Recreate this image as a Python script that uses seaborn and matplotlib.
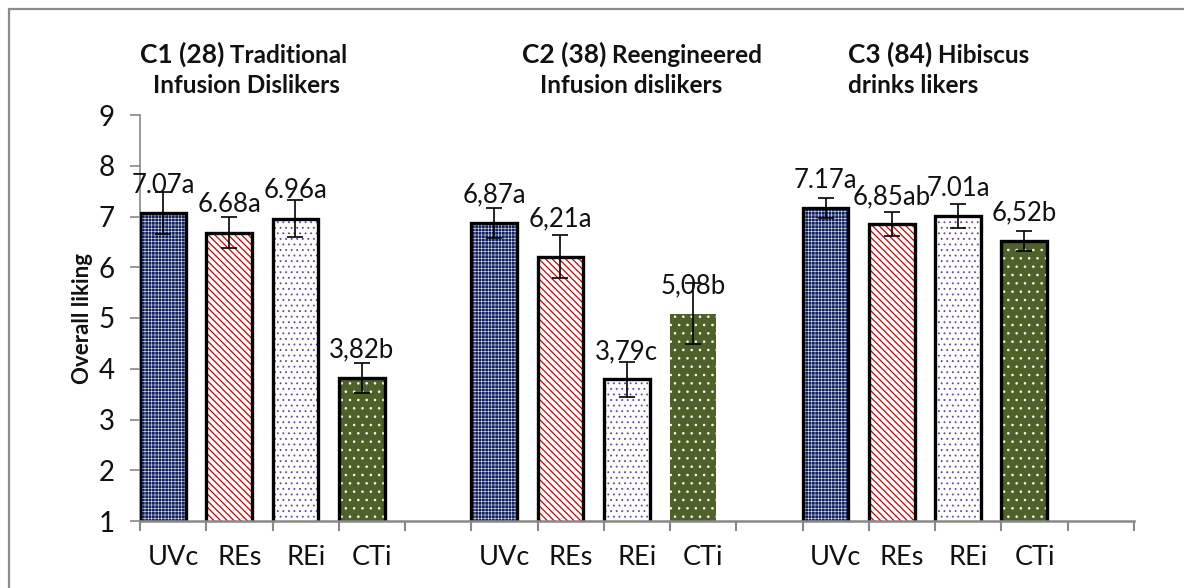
import matplotlib
matplotlib.use("Agg")
import matplotlib.pyplot as plt
import matplotlib.patches as mpatches
from matplotlib.lines import Line2D
import seaborn as sns
import pandas as pd
import numpy as np

# ------------------------------------------------------------------
# Data
# ------------------------------------------------------------------
treatments = ["UVc", "REs", "REi", "CTi"]
slots = [0, 1, 2, 3, 5, 6, 7, 8, 10, 11, 12, 13]     # category slot of each bar
liking = [7.07, 6.68, 6.96, 3.82,
          6.87, 6.21, 3.79, 5.08,
          7.17, 6.85, 7.01, 6.52]
sem = [0.41, 0.31, 0.37, 0.29,
       0.30, 0.42, 0.35, 0.60,
       0.19, 0.24, 0.24, 0.19]
value_labels = ["7.07a", "6.68a", "6.96a", "3,82b",
                "6,87a", "6,21a", "3,79c", "5,08b",
                "7.17a", "6,85ab", "7.01a", "6,52b"]
cluster_head = ["C1 (28)", "C2 (38)", "C3 (84)"]
cluster_tail = [" Traditional", " Reengineered", " Hibiscus"]
cluster_line2 = ["Infusion Dislikers", "Infusion dislikers", "drinks likers"]
y_ticks = [1, 2, 3, 4, 5, 6, 7, 8, 9]

# styles per treatment: face, hatch colour, hatch, hatch linewidth
styles = {
    "UVc": ("#0f215e", "#dfe4f2", "+++++", 0.4),
    "REs": ("white", "#d00000", "\\\\\\\\\\", 0.9),
    "REi": ("white", "#6b3fa0", "...", 0.6),
    "CTi": ("#4e6128", "white", "..", 0.6),
}

W, H = 1184, 588
plt.rcParams["hatch.linewidth"] = 0.7
sns.set_style("white")
plt.rcParams["font.family"] = ["Lato", "DejaVu Sans"]

fig = plt.figure(figsize=(W / 100, H / 100), dpi=100)
ax = fig.add_axes([140 / W, 1 - 521 / H, 994 / W, 406 / H])

n_groups = len(liking) // len(treatments)
df = pd.DataFrame({
    "pos": [s - 0.155 for s in slots],
    "liking": liking,
    "treatment": treatments * n_groups,
})
sns.barplot(data=df, x="pos", y="liking", native_scale=True, width=0.69,
            errorbar=None, color="white", ax=ax, zorder=2)

bars = list(ax.patches)
for i, (p, tr) in enumerate(zip(bars, df["treatment"])):
    face, hcol, hatch, hlw = styles[tr]
    p.set_facecolor(face)
    p.set_edgecolor(hcol)
    p.set_hatch(hatch)
    if hasattr(p, "set_hatch_linewidth"):
        p.set_hatch_linewidth(hlw)
    else:
        p._hatch_linewidth = hlw
    p.set_linewidth(0)
    # the CTi bar of cluster 2 has no black outline
    if i != 7:
        ax.add_patch(mpatches.Rectangle(p.get_xy(), p.get_width(), p.get_height(),
                                        fill=False, edgecolor="black", linewidth=2.4,
                                        zorder=3))

centers = [p.get_x() + p.get_width() / 2 for p in bars]
ax.errorbar(centers, liking, yerr=sem, fmt="none", ecolor="black",
            elinewidth=1.2, capsize=6, capthick=1.2, zorder=4)

nudge = {5: 0.2}
for i, (x, v, lab) in enumerate(zip(centers, liking, value_labels)):
    ax.text(x, v + 0.4 + nudge.get(i, 0), lab, ha="center", va="baseline",
            fontsize=18.5, color="#111111", zorder=5)

# axes
ax.set_xlim(-0.5, 14.5)
ax.set_ylim(1, 9)
ax.set_yticks(y_ticks)
ax.set_xticks(np.arange(-0.5, 15, 1))
ax.set_xticklabels([])
ax.set_xticks(slots, minor=True)
ax.set_xticklabels(treatments * n_groups, minor=True)
ax.tick_params(axis="x", which="major", direction="out", length=7, width=1.5,
               color="#888888", bottom=True)
ax.tick_params(axis="x", which="minor", length=0, pad=17, labelsize=19.5,
               labelcolor="#111111")
ax.tick_params(axis="y", direction="out", length=7, width=1.2, color="#888888",
               left=True, pad=11, labelsize=20, labelcolor="#111111")
ax.set_xlabel("")
ax.set_ylabel("Overall liking", fontsize=16, fontweight="bold", color="#111111")
ax.yaxis.set_label_coords(-0.047, 0.5)
for side in ["top", "right"]:
    ax.spines[side].set_visible(False)
ax.spines["left"].set_color("#888888")
ax.spines["left"].set_linewidth(1.2)
ax.spines["bottom"].set_color("#888888")
ax.spines["bottom"].set_linewidth(1.8)
ax.spines["bottom"].set_zorder(6)
ax.grid(False)

# cluster titles
line1_x = [140, 522, 848]
line2_x = [246, 631, 848]
line2_ha = ["center", "center", "left"]
for i in range(3):
    t1 = fig.text(line1_x[i] / W, 1 - 63 / H, cluster_head[i], fontsize=19,
                  fontweight="bold", color="#111111", ha="left", va="baseline")
    ax.annotate(cluster_tail[i], xy=(1, 0), xycoords=t1, fontsize=17.5,
                fontweight="bold", color="#111111", ha="left", va="bottom",
                annotation_clip=False)
    fig.text(line2_x[i] / W, 1 - 93 / H, cluster_line2[i], fontsize=17.5,
             fontweight="bold", color="#111111", ha=line2_ha[i], va="baseline")

# outer chart frame
fig.add_artist(Line2D([9 / W, 1], [1 - 9 / H, 1 - 9 / H], transform=fig.transFigure,
                      color="#8c8c8c", linewidth=1.6))
fig.add_artist(Line2D([9 / W, 9 / W], [0, 1 - 9 / H], transform=fig.transFigure,
                      color="#8c8c8c", linewidth=1.6))

fig.savefig("out.png", dpi=100)
